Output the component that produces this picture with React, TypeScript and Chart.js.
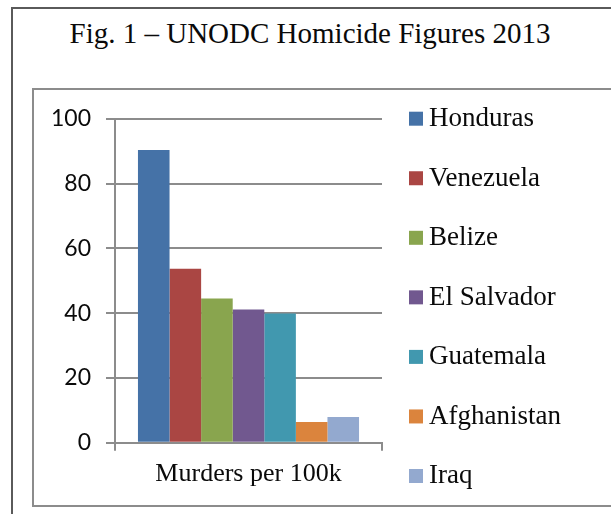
import React, { useEffect, useRef } from "react";
import { Chart, registerables } from "chart.js";

Chart.register(...registerables);

const titleText = "Fig. 1 – UNODC Homicide Figures 2013";
const categories = ["Murders per 100k"];
const countries = ["Honduras", "Venezuela", "Belize", "El Salvador", "Guatemala", "Afghanistan", "Iraq"];
const rates = [90.4, 53.7, 44.5, 41.1, 39.9, 6.4, 7.9];
const colors = ["#4572A7", "#AA4643", "#89A54E", "#71588F", "#4198AF", "#DB843D", "#93A9CF"];
const yMin = 0;
const yMax = 100;
const yStep = 20;

const GRID = "#8c8c8c";
const SERIF = "'Liberation Serif', 'Times New Roman', serif";

const sideLegend = {
  id: "sideLegend",
  afterDraw(chart: any) {
    const ctx = chart.ctx;
    const x = chart.chartArea.right + 27;
    const y0 = 21.7;
    const step = 59.55;
    ctx.save();
    ctx.font = `27px ${SERIF}`;
    ctx.textBaseline = "alphabetic";
    ctx.textAlign = "left";
    chart.data.datasets.forEach((ds: any, i: number) => {
      const top = y0 + i * step;
      ctx.fillStyle = ds.backgroundColor;
      ctx.fillRect(x, top, 14, 14);
      ctx.fillStyle = "#0a0a0a";
      ctx.fillText(ds.label, x + 20, top + 14.3);
    });
    ctx.restore();
  },
};

export default function App() {
  const ref = useRef<HTMLCanvasElement | null>(null);

  useEffect(() => {
    if (!ref.current) return;
    const chart = new Chart(ref.current, {
      type: "bar",
      data: {
        labels: categories,
        datasets: countries.map((c, i) => ({
          label: c,
          data: [rates[i]],
          backgroundColor: colors[i],
          borderWidth: 0,
        })),
      },
      options: {
        responsive: false,
        animation: false,
        devicePixelRatio: 1,
        layout: { padding: { left: 0, right: 208, top: 27.7, bottom: 0 } },
        datasets: { bar: { categoryPercentage: 0.828, barPercentage: 1 } },
        plugins: {
          legend: { display: false },
          title: { display: false },
          tooltip: { enabled: false },
        },
        scales: {
          x: {
            grid: { drawOnChartArea: false, drawTicks: true, tickLength: 8, color: GRID, lineWidth: 2 },
            border: { display: true, color: GRID, width: 2 },
            ticks: { color: "#0a0a0a", font: { family: SERIF, size: 26 }, padding: 8 },
            afterFit: (s: any) => { s.height = 61.3; },
          },
          y: {
            min: yMin,
            max: yMax,
            ticks: { stepSize: yStep, color: "#0a0a0a", font: { family: "Lato", size: 23 }, padding: 15 },
            grid: { color: GRID, lineWidth: 2, tickLength: 9 },
            border: { display: true, color: GRID, width: 2 },
            afterFit: (s: any) => { s.width = 81; },
          },
        },
      },
      plugins: [sideLegend],
    });
    return () => chart.destroy();
  }, []);

  return (
    <div style={{ position: "fixed", left: 0, top: 0, width: 611, height: 514, overflow: "hidden", background: "#fff" }}>
      <div style={{ position: "absolute", left: 11, top: 7, width: 800, height: 700, border: "2px solid #5a5a5a", boxSizing: "border-box" }} />
      <div
        style={{
          position: "absolute",
          left: 0,
          top: 19,
          width: 620,
          textAlign: "center",
          fontFamily: SERIF,
          fontSize: 29,
          lineHeight: "29px",
          color: "#0a0a0a",
          whiteSpace: "nowrap",
        }}
      >
        {titleText}
      </div>
      <div
        style={{
          position: "absolute",
          left: 32,
          top: 88,
          width: 600,
          height: 419,
          borderTop: `2px solid ${GRID}`,
          borderLeft: `2px solid ${GRID}`,
          borderBottom: `2px solid ${GRID}`,
          boxSizing: "border-box",
        }}
      />
      <canvas ref={ref} width={556} height={414} style={{ position: "absolute", left: 34, top: 90, width: 556, height: 414 }} />
    </div>
  );
}
